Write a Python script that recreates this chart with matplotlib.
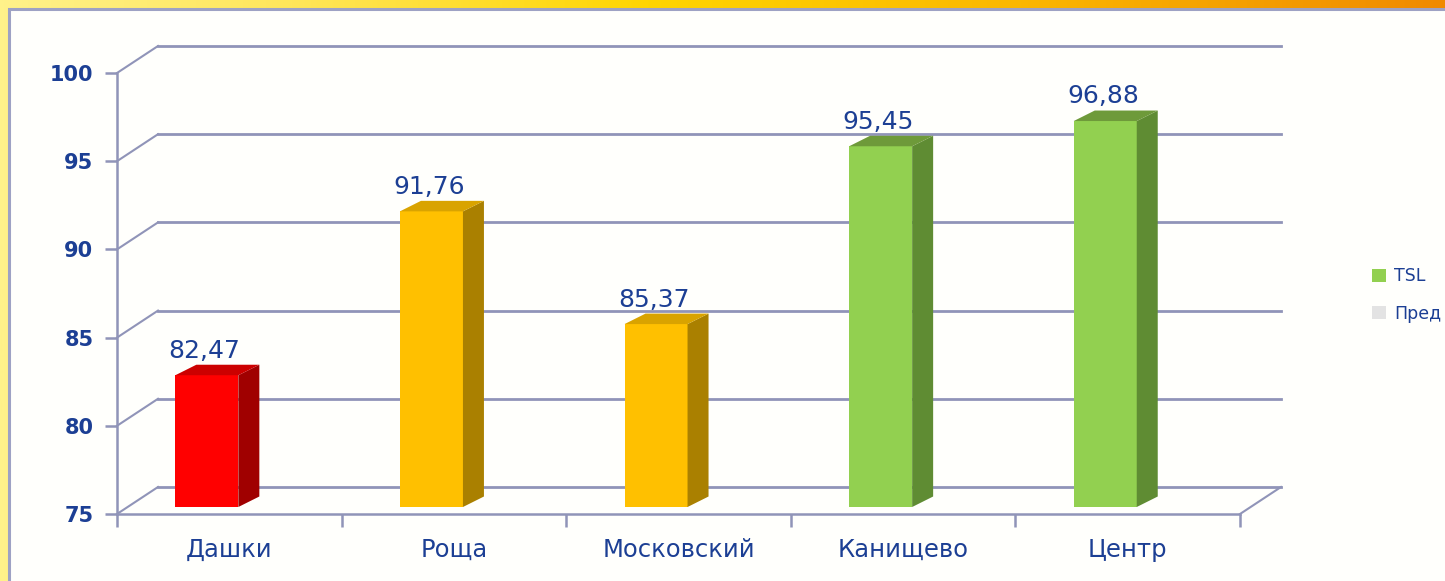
import numpy as np
import matplotlib.pyplot as plt
from matplotlib.patches import Polygon, Rectangle, Patch
from matplotlib.colors import LinearSegmentedColormap

# data
regions = ['Дашки', 'Роща', 'Московский', 'Канищево', 'Центр']
values = [82.47, 91.76, 85.37, 95.45, 96.88]
labels = ['82,47', '91,76', '85,37', '95,45', '96,88']
yticks = [75, 80, 85, 90, 95, 100]
legend_names = ['TSL', 'Пред']

# colours (front, side, top)
red = ('#ff0000', '#a00000', '#cc0000')
yellow = ('#ffc000', '#aa8000', '#d9a300')
green = ('#92d050', '#5f8c33', '#6e9a3a')
bar_colors = [red, yellow, yellow, green, green]
navy = '#1c3f94'
grid_col = '#9094b8'

W, H = 1445, 581
fig = plt.figure(figsize=(W / 100, H / 100), dpi=100)

# background frame: gradient band + white panel
bg = fig.add_axes([0, 0, 1, 1])
bg.set_xlim(0, W)
bg.set_ylim(0, H)
bg.axis('off')
cmap = LinearSegmentedColormap.from_list(
    'frame', [(0, '#fff28a'), (0.2, '#ffe65a'), (0.45, '#ffd500'),
              (0.7, '#fbb800'), (1.0, '#f08a00')])
grad = np.linspace(0, 1, 512)[None, :]
bg.imshow(grad, cmap=cmap, aspect='auto', extent=[0, W, 0, H])
bg.add_patch(Rectangle((9, -5), W, H - 4, facecolor='#fffffc',
                       edgecolor='#9ea2c4', lw=2.2))

# main axes (front plane of the 3d box)
ax = fig.add_axes([117 / W, 67 / H, 1123 / W, 441 / H])
ax.patch.set_alpha(0)
ax.set_xlim(0, 5)
ax.set_ylim(75, 100)

px_x = 5 / 1123.0   # data units per pixel
px_y = 25 / 441.0
bdx, bdy = 41 * px_x, 27 * px_y     # back wall offset
ddx, ddy = 21 * px_x, 10.5 * px_y   # bar depth
shift = 7 * px_y                    # bars sit a little back from the front
half = 31.5 * px_x

# back wall gridlines and diagonal connectors
for v in yticks:
    ax.plot([bdx, 5 + bdx], [v + bdy, v + bdy], color=grid_col, lw=2,
            clip_on=False, zorder=1)
    ax.plot([0, bdx], [v, v + bdy], color=grid_col, lw=1.5,
            clip_on=False, zorder=1)
ax.plot([5, 5 + bdx], [75, 75 + bdy], color=grid_col, lw=1.5,
        clip_on=False, zorder=1)

# bars
xs = np.arange(len(regions)) + 0.4
base = 75 + shift
for x, v, lab, (cf, cs, ct) in zip(xs, values, labels, bar_colors):
    top = v + shift
    ax.bar(x, top - base, bottom=base, width=2 * half, color=cf,
           zorder=3, clip_on=False)
    side = [(x + half, base), (x + half + ddx, base + ddy),
            (x + half + ddx, top + ddy), (x + half, top)]
    ax.add_patch(Polygon(side, closed=True, facecolor=cs, edgecolor='none',
                         zorder=3, clip_on=False))
    lid = [(x - half, top), (x + half, top),
           (x + half + ddx, top + ddy), (x - half + ddx, top + ddy)]
    ax.add_patch(Polygon(lid, closed=True, facecolor=ct, edgecolor='none',
                         zorder=3, clip_on=False))
    ax.text(x - 0.01, top + ddy + 0.4, lab, ha='center', va='baseline',
            fontsize=18, color=navy, zorder=4)

# axes styling
for s in ['top', 'right']:
    ax.spines[s].set_visible(False)
for s in ['left', 'bottom']:
    ax.spines[s].set_color(grid_col)
    ax.spines[s].set_linewidth(1.8)
ax.set_yticks(yticks)
ax.set_yticklabels([str(t) for t in yticks])
ax.tick_params(axis='y', length=9, width=1.8, color=grid_col, pad=8,
               labelsize=15, labelcolor=navy)
for t in ax.get_yticklabels():
    t.set_fontweight('bold')
ax.set_xticks(range(6))
ax.set_xticklabels([])
ax.set_xticks(np.arange(5) + 0.5, minor=True)
ax.set_xticklabels(regions, minor=True)
ax.tick_params(axis='x', which='major', length=9, width=1.8, color=grid_col)
ax.tick_params(axis='x', which='minor', length=0, pad=17, labelsize=17.5,
               labelcolor=navy)

# legend
handles = [Patch(facecolor='#92d050'), Patch(facecolor='#e3e3e3')]
fig.legend(handles, legend_names, loc='center left',
           bbox_to_anchor=(1356 / W, 1 - 295 / H), frameon=False,
           fontsize=12.5, labelcolor=navy, handlelength=0.8,
           handleheight=0.8, handletextpad=0.5, labelspacing=1.1)

fig.savefig('out.png', dpi=100)
